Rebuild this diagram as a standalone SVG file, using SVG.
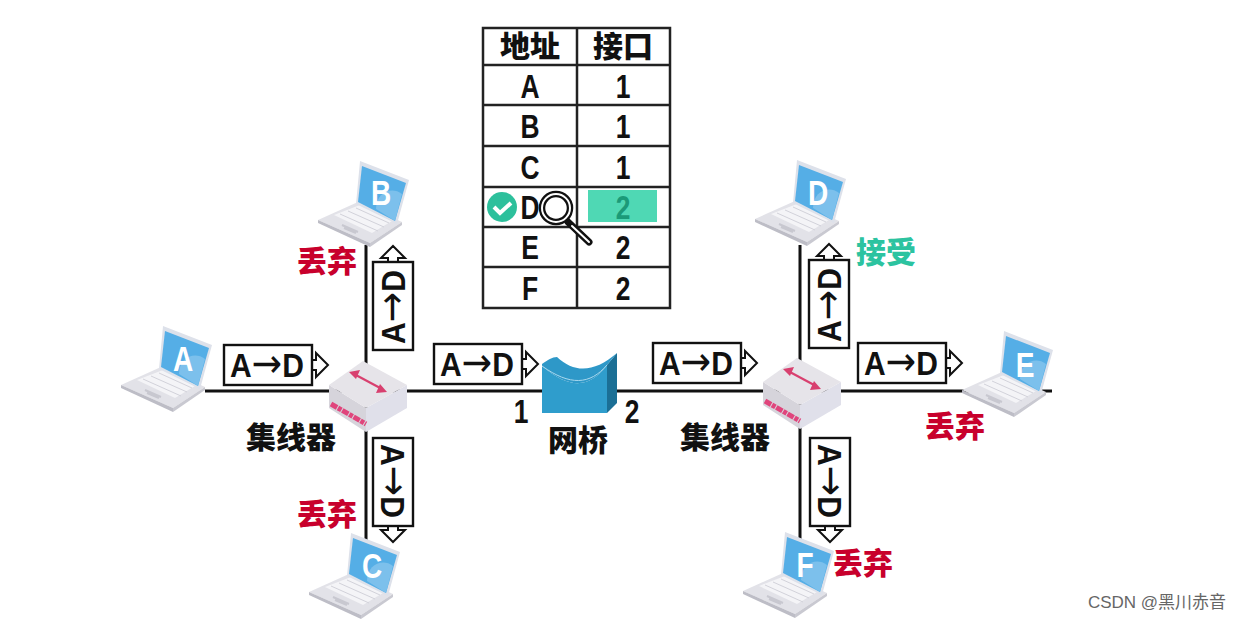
<svg xmlns="http://www.w3.org/2000/svg" width="1241" height="620" viewBox="0 0 1241 620">
<style>
text{font-family:"Liberation Sans","Noto Sans CJK SC",sans-serif;font-weight:700;text-anchor:middle;fill:#111}
.cjk{font-family:"Noto Sans CJK SC",sans-serif;font-size:30px;font-weight:900}
.red{fill:#c8002c}
.cell,.let,.num,.pkt{transform-box:fill-box;transform-origin:center}
.cell,.num{font-size:33px;transform:scaleX(.8)}
.let{fill:#fff;font-size:35px;transform:scaleX(.8)}
.pkt{font-size:33px;transform:scaleX(.91)}
.ar{font-family:"DejaVu Sans",sans-serif;font-weight:400;font-size:40px}
.box{fill:#fff;stroke:#111;stroke-width:2.4}
.head{fill:#fff;stroke:#111;stroke-width:2}
.wire{stroke:#111;stroke-width:3;fill:none}
.grid{stroke:#222;stroke-width:2.5;fill:none}
.keys{stroke:#d2d2da;stroke-width:1;fill:none}
</style>
<defs>
<g id="laptop">
<path d="M-44 58L-4 40L40 60L8 81Z" fill="#e2e2e8"/>
<path d="M-44 58L8 81L8 85L-44 61Z" fill="#bdbdc6"/>
<path d="M8 81L40 60L40 63L8 85Z" fill="#c9c9d1"/>
<path d="M-28 53L-2 43L30 59L10 71Z" fill="#f4f4f7"/>
<path class="keys" d="M-22 52L16 69M-14 49L22 65M-6 46L27 61"/>
<path d="M-20 63L-4 70M-18 66L-6 71" stroke="#c8c8d0" stroke-width="2"/>
<path d="M-2 -1L47 18L35 62L-6 42Z" fill="#dde1ea"/>
<path d="M0 4L44 21L33 59L-4 40Z" fill="#55aee6"/>
<path d="M14 47C14 30 30 24 40 32L33 59Z" fill="#7cc0ec"/>
</g>
<g id="hub">
<path d="M0 24L37 47L37 71L0 47Z" fill="#d6d4db"/>
<path d="M37 47L78 24L78 47L37 71Z" fill="#e0e0ea"/>
<path d="M0 24L34 0L78 24L37 47Z" fill="#e6e4e9"/>
<path d="M2 43L37 63" stroke="#e0457c" stroke-width="5" stroke-dasharray="7 1 4 1"/>
<path d="M25 13L53 28" stroke="#d8406f" stroke-width="2.2"/>
<path d="M20 11L31 9L27 18ZM58 31L47 32L51 23Z" fill="#d8406f"/>
</g>
<g id="packet">
<path class="head" d="M88 15H92V8L104 20L92 32V25H88"/>
<rect class="box" width="88" height="40"/>
</g>
</defs>

<g id="connectors">
<path class="wire" d="M205 391H1052"/>
<path class="wire" d="M366 245V540"/>
<path class="wire" d="M800 245V540"/>
</g>

<g id="node-A"><use href="#laptop" x="165" y="327"/><text class="let" x="183" y="371">A</text></g>
<g id="node-B"><use href="#laptop" x="362" y="162"/><text class="let" x="381" y="205">B</text></g>
<g id="node-C"><use href="#laptop" x="353" y="534"/><text class="let" x="372" y="578">C</text></g>
<g id="node-D"><use href="#laptop" x="799" y="161"/><text class="let" x="818" y="205">D</text></g>
<g id="node-E"><use href="#laptop" x="1006" y="332"/><text class="let" x="1025" y="377">E</text></g>
<g id="node-F"><use href="#laptop" x="787" y="533"/><text class="let" x="805" y="577">F</text></g>

<g id="hub-left"><use href="#hub" x="329" y="361"/><text class="cjk" x="291" y="448">集线器</text></g>
<g id="hub-right"><use href="#hub" x="763" y="358"/><text class="cjk" x="725" y="448">集线器</text></g>

<g id="bridge">
<path d="M607 365L617 353V403L607 413Z" fill="#1b6f95"/>
<path d="M542 366C570 390 590 388 607 365V413H542Z" fill="#2f9dcc"/>
<path d="M542 366V364C548 360 552 357 557 357C575 374 595 372 617 353L607 365C590 388 570 390 542 366Z" fill="#2e98c8"/>
<path d="M542 366C570 386 590 385 607 365" fill="none" stroke="#a8d8ee" stroke-width="1"/>
<text class="cjk" x="578" y="451">网桥</text>
<text class="num" x="521" y="423">1</text>
<text class="num" x="632" y="423">2</text>
</g>

<g id="table">
<rect x="483" y="28" width="187" height="280" fill="#fff"/>
<rect x="588" y="190" width="69" height="32" fill="#4fd8b4"/>
<path class="grid" d="M483 28H670V308H483ZM577 28V308M483 65H670M483 105H670M483 146H670M483 187H670M483 227H670M483 267H670"/>
<text class="cjk" x="530" y="57">地址</text><text class="cjk" x="623" y="57">接口</text>
<text class="cell" x="530" y="98">A</text><text class="cell" x="623" y="98">1</text>
<text class="cell" x="530" y="138">B</text><text class="cell" x="623" y="138">1</text>
<text class="cell" x="530" y="179">C</text><text class="cell" x="623" y="179">1</text>
<text class="cell" x="530" y="219">D</text><text class="cell" x="623" y="219" style="fill:#1b9a78">2</text>
<text class="cell" x="530" y="259">E</text><text class="cell" x="623" y="259">2</text>
<text class="cell" x="530" y="300">F</text><text class="cell" x="623" y="300">2</text>
</g>

<g id="check">
<circle cx="502" cy="207" r="15" fill="#2dc09c"/>
<path d="M494 207L500 213L511 203" fill="none" stroke="#fff" stroke-width="4"/>
</g>
<g id="magnifier">
<path d="M568 222L589 242" stroke="#111" stroke-width="7" stroke-linecap="round"/>
<path d="M572 226L589 242" stroke="#fff" stroke-width="2" stroke-linecap="round"/>
<circle cx="556" cy="208" r="14" fill="#fff" stroke="#111" stroke-width="6.5"/>
<circle cx="556" cy="208" r="14" fill="none" stroke="#fff" stroke-width="2"/>
</g>

<g id="packet-A"><use href="#packet" x="224" y="345"/><text class="pkt" x="267" y="377">A<tspan class="ar">→</tspan>D</text></g>
<g id="packet-bridge"><use href="#packet" x="434" y="344"/><text class="pkt" x="477" y="376">A<tspan class="ar">→</tspan>D</text></g>
<g id="packet-right"><use href="#packet" x="653" y="343"/><text class="pkt" x="696" y="375">A<tspan class="ar">→</tspan>D</text></g>
<g id="packet-E"><use href="#packet" x="858" y="343"/><text class="pkt" x="901" y="375">A<tspan class="ar">→</tspan>D</text></g>
<g id="packet-B" transform="translate(373 350) rotate(-90)"><use href="#packet"/><text class="pkt" x="43" y="32">A<tspan class="ar">→</tspan>D</text></g>
<g id="packet-D" transform="translate(809 348) rotate(-90)"><use href="#packet"/><text class="pkt" x="43" y="32">A<tspan class="ar">→</tspan>D</text></g>
<g id="packet-C" transform="translate(413 438) rotate(90)"><use href="#packet"/><text class="pkt" x="43" y="32">A<tspan class="ar">→</tspan>D</text></g>
<g id="packet-F" transform="translate(850 438) rotate(90)"><use href="#packet"/><text class="pkt" x="43" y="32">A<tspan class="ar">→</tspan>D</text></g>

<g id="labels">
<text class="cjk red" x="327" y="272">丢弃</text>
<text class="cjk red" x="327" y="525">丢弃</text>
<text class="cjk red" x="955" y="437">丢弃</text>
<text class="cjk red" x="863" y="574">丢弃</text>
<text class="cjk" x="886" y="263" style="fill:#2cc3a0">接受</text>
<text x="1157" y="608" style="font-size:17px;font-weight:400;fill:#666">CSDN @黑川赤音</text>
</g>
</svg>
